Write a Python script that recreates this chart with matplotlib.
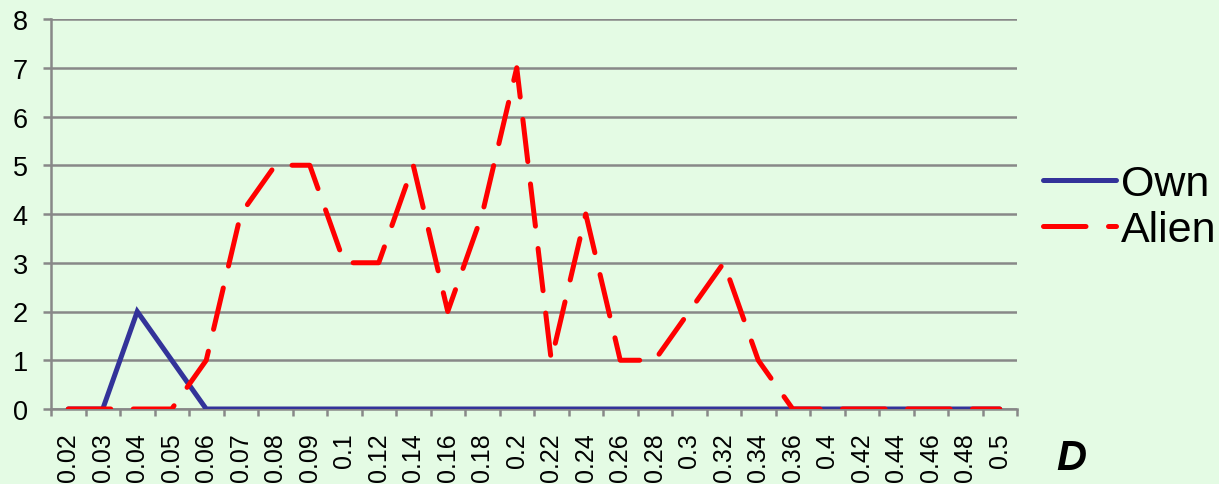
import matplotlib
matplotlib.use("Agg")
import matplotlib.pyplot as plt
import numpy as np

categories = ["0.02", "0.03", "0.04", "0.05", "0.06", "0.07", "0.08", "0.09", "0.1",
              "0.12", "0.14", "0.16", "0.18", "0.2", "0.22", "0.24", "0.26", "0.28",
              "0.3", "0.32", "0.34", "0.36", "0.4", "0.42", "0.44", "0.46", "0.48", "0.5"]
own = [0, 0, 2, 1, 0, 0, 0, 0, 0, 0, 0, 0, 0, 0, 0, 0, 0, 0, 0, 0, 0, 0, 0, 0, 0, 0, 0, 0]
alien = [0, 0, 0, 0, 1, 4, 5, 5, 3, 3, 5, 2, 4, 7, 1, 4, 1, 1, 2, 3, 1, 0, 0, 0, 0, 0, 0, 0]
y_ticks = [0, 1, 2, 3, 4, 5, 6, 7, 8]

plt.rcParams['font.family'] = ['Liberation Sans', 'DejaVu Sans']
bg = '#e4fbe4'
fig = plt.figure(figsize=(12.19, 4.85), dpi=100, facecolor=bg)
ax = fig.add_axes([51/1219, 1-410/485, (1017-51)/1219, (410-20)/485])
ax.set_facecolor(bg)

x = np.arange(len(categories))
ax.plot(x, own, color='#333399', lw=3.6, solid_capstyle='round', solid_joinstyle='miter', label='Own', zorder=3)
ax.plot(x, alien, color='#ff0000', lw=3.6, linestyle=(0, (8.5, 4.5)), dash_capstyle='round', label='Alien', zorder=4)

ax.set_xlim(-0.5, len(categories) - 0.5)
ax.set_ylim(0, 8)
ax.set_yticks(y_ticks)
ax.set_yticklabels([str(v) for v in y_ticks], fontsize=19.5)
ax.yaxis.grid(True, color='#888888', lw=1.8)
ax.set_axisbelow(True)

ax.set_xticks(x)
ax.set_xticklabels(categories, rotation=90, fontsize=18, va='top')
ax.tick_params(axis='x', which='major', length=0, pad=16.5)
ax.set_xticks(np.arange(-0.5, len(categories), 1), minor=True)
ax.tick_params(axis='x', which='minor', length=5, width=1.8, color='#888888', direction='out')
ax.tick_params(axis='y', length=5.8, width=1.8, color='#888888', pad=11)

for s in ['top', 'right']:
    ax.spines[s].set_visible(False)
for s in ['left', 'bottom']:
    ax.spines[s].set_color('#888888')
    ax.spines[s].set_linewidth(1.8)

fig.legend(loc='upper left', bbox_to_anchor=(1043/1219, 1-165/485), frameon=False,
           fontsize=31, handlelength=1.7, handletextpad=0.12, labelspacing=0.15,
           borderaxespad=0, borderpad=0)
fig.text(1071/1219, 1-459/485, 'D', fontsize=30, fontweight='bold', fontstyle='italic',
         ha='center', va='center')

fig.savefig('out.png', dpi=100, facecolor=bg)
